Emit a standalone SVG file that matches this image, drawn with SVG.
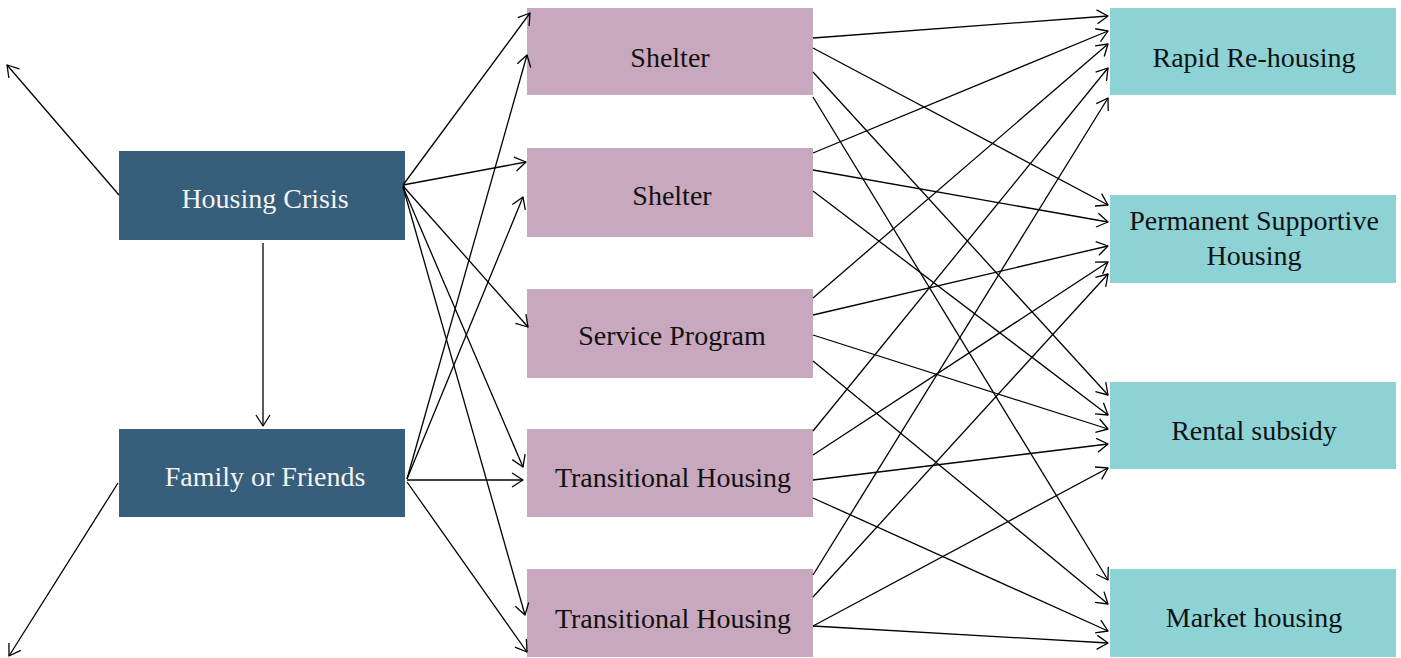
<svg xmlns="http://www.w3.org/2000/svg" width="1401" height="658" viewBox="0 0 1401 658">
<style>
.dark{fill:#375E7B}
.mauve{fill:#C8A8BE}
.teal{fill:#8DD3D6}
text{font-family:"Liberation Serif","Times New Roman",serif;font-size:28px;text-anchor:middle}
.lt{fill:#F4F4F4}
.dk{fill:#111111}
.conn line{stroke:#000;stroke-width:1.3;fill:none;marker-end:url(#ah)}
</style>
<defs>
<marker id="ah" viewBox="-1 -1 14 16" refX="11" refY="7" markerWidth="14" markerHeight="16" markerUnits="userSpaceOnUse" orient="auto">
<path d="M0,0 L11,7 L0,14" fill="none" stroke="#000" stroke-width="1.3" stroke-linejoin="round"/>
</marker>
</defs>
<rect width="1401" height="658" fill="#fff"/>
<g id="housing-crisis"><rect class="dark" x="119" y="151" width="286" height="89"/><text class="lt" x="265" y="208">Housing Crisis</text></g>
<g id="family-friends"><rect class="dark" x="119" y="429" width="286" height="88"/><text class="lt" x="265" y="486">Family or Friends</text></g>
<g id="shelter-1"><rect class="mauve" x="527" y="8" width="286" height="87"/><text class="dk" x="670" y="67">Shelter</text></g>
<g id="shelter-2"><rect class="mauve" x="527" y="148" width="286" height="89"/><text class="dk" x="672" y="205">Shelter</text></g>
<g id="service-program"><rect class="mauve" x="527" y="289" width="286" height="89"/><text class="dk" x="672" y="345">Service Program</text></g>
<g id="transitional-1"><rect class="mauve" x="527" y="429" width="286" height="88"/><text class="dk" x="673" y="487">Transitional Housing</text></g>
<g id="transitional-2"><rect class="mauve" x="527" y="569" width="286" height="88"/><text class="dk" x="673" y="628">Transitional Housing</text></g>
<g id="rapid-rehousing"><rect class="teal" x="1110" y="8" width="286" height="87"/><text class="dk" x="1254" y="67">Rapid Re-housing</text></g>
<g id="permanent-supportive"><rect class="teal" x="1110" y="195" width="286" height="88"/><text class="dk" x="1254" y="230">Permanent Supportive</text><text class="dk" x="1254" y="265">Housing</text></g>
<g id="rental-subsidy"><rect class="teal" x="1110" y="382" width="286" height="87"/><text class="dk" x="1254" y="440">Rental subsidy</text></g>
<g id="market-housing"><rect class="teal" x="1110" y="569" width="286" height="88"/><text class="dk" x="1254" y="627">Market housing</text></g>
<g id="connectors" class="conn">
<line x1="119" y1="195" x2="7" y2="65"/>
<line x1="118" y1="483" x2="9" y2="656"/>
<line x1="263" y1="243" x2="263" y2="426"/>
<line x1="403" y1="185" x2="530" y2="13"/>
<line x1="403" y1="185" x2="526" y2="162"/>
<line x1="403" y1="186" x2="528" y2="327"/>
<line x1="403" y1="187" x2="523" y2="467"/>
<line x1="403" y1="187" x2="525" y2="615"/>
<line x1="407" y1="479" x2="527" y2="55"/>
<line x1="407" y1="479" x2="523" y2="197"/>
<line x1="407" y1="480" x2="523" y2="480"/>
<line x1="407" y1="482" x2="527" y2="652"/>
<line x1="813" y1="38" x2="1108" y2="16"/>
<line x1="813" y1="48" x2="1108" y2="205"/>
<line x1="813" y1="72" x2="1108" y2="395"/>
<line x1="813" y1="97" x2="1108" y2="580"/>
<line x1="813" y1="153" x2="1108" y2="31"/>
<line x1="813" y1="170" x2="1108" y2="222"/>
<line x1="813" y1="191" x2="1108" y2="415"/>
<line x1="813" y1="298" x2="1108" y2="44"/>
<line x1="813" y1="315" x2="1108" y2="246"/>
<line x1="813" y1="335" x2="1108" y2="429"/>
<line x1="813" y1="361" x2="1108" y2="604"/>
<line x1="813" y1="431" x2="1108" y2="68"/>
<line x1="813" y1="455" x2="1108" y2="262"/>
<line x1="813" y1="480" x2="1108" y2="444"/>
<line x1="813" y1="498" x2="1108" y2="631"/>
<line x1="813" y1="575" x2="1108" y2="98"/>
<line x1="813" y1="597" x2="1108" y2="274"/>
<line x1="813" y1="626" x2="1108" y2="468"/>
<line x1="813" y1="626" x2="1108" y2="643"/>
</g>
</svg>
